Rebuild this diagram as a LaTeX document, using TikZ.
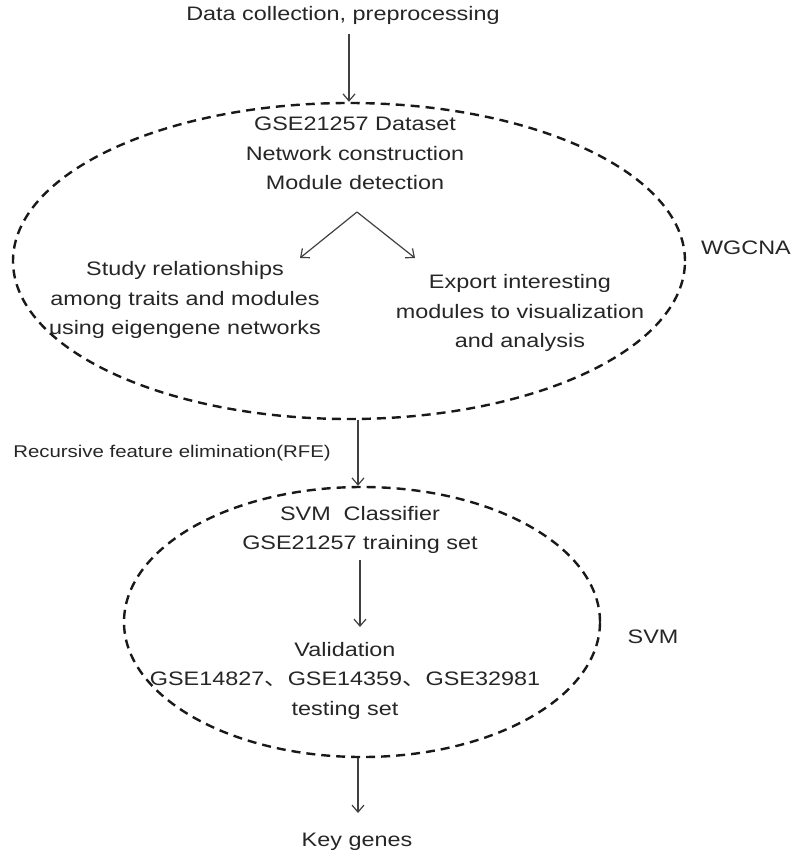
\documentclass[tikz,border=0pt]{standalone}
\usepackage{fontspec}
\setmainfont{Liberation Sans}[FakeStretch=1.2]
\newfontfamily\cjk{Noto Sans CJK SC}[FakeStretch=1.2]
\usetikzlibrary{arrows.meta,shapes.geometric}
\begin{document}
\begin{tikzpicture}[x=1pt,y=-1pt,
  txt/.style={align=center,text=black!85,font=\fontsize{19.5}{29.5}\selectfont,inner sep=0pt},
  small/.style={align=center,text=black!85,font=\fontsize{17}{20}\selectfont,inner sep=0pt},
  oval/.style={draw=black!90,ellipse,line width=2.4pt,dash pattern=on 9pt off 6pt,inner sep=0pt},
  arr/.style={draw=black!75,line width=1.2pt,-{Straight Barb[length=7pt,width=12pt,line width=1.2pt]}}]
\useasboundingbox (0,0) rectangle (800,860);
\node[txt] (data) at (343,15) {Data collection, preprocessing};
\node[oval,minimum width=672pt,minimum height=316pt] (e1) at (349,261) {};
\node[txt,anchor=north] (top) at (355,117) {GSE21257 Dataset\\Network construction\\Module detection};
\coordinate (apex) at (357,212);
\coordinate (lend) at (300,258);
\coordinate (rend) at (415,258);
\node[txt] (study) at (185,300) {Study relationships\\among traits and modules\\using eigengene networks};
\node[txt] (export) at (520,313) {Export interesting\\modules to visualization\\and analysis};
\node[txt] (wgcna) at (746,248) {WGCNA};
\node[small] (rfe) at (172,453) {Recursive feature elimination(RFE)};
\node[oval,minimum width=476pt,minimum height=270pt] (e2) at (362,622) {};
\node[txt] (svmc) at (360,530) {SVM\ \ Classifier\\GSE21257 training set};
\coordinate (vtop) at (360,627);
\node[txt,anchor=north] (valid) at (345,642) {Validation\\GSE14827{\cjk 、}GSE14359{\cjk 、}GSE32981\\testing set};
\node[txt] (svm) at (653,637) {SVM};
\node[txt] (key) at (357,842) {Key genes};
\draw[arr] (data.south -| e1.north) ++(0,10) -- (e1.north);
\draw[arr] (apex) -- (lend);
\draw[arr] (apex) -- (rend);
\draw[arr] (e1.south -| 358,0) -- (e2.north -| 358,0);
\draw[arr] (svmc.south -| 360,0) ++(0,6) -- (vtop);
\draw[arr] (e2.south -| 358,0) -- (358,813);
\end{tikzpicture}
\end{document}
